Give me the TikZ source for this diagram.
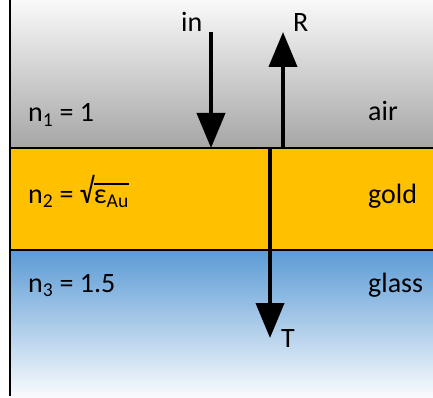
\documentclass[tikz,border=0pt]{standalone}
\usepackage{fontspec}
\setmainfont{Carlito}
\usetikzlibrary{arrows.meta}
\definecolor{airtop}{HTML}{F9F9F9}
\definecolor{airbot}{HTML}{A6A6A6}
\definecolor{gold}{HTML}{FFC000}
\definecolor{glasstop}{HTML}{5B9BD5}
\definecolor{glassbot}{HTML}{FAFBFD}
\newcommand\myovl[1]{\leavevmode\vbox{\hrule height 1.3pt\kern 0.3pt\hbox{\vphantom{T}#1}}}
\begin{document}
\begin{tikzpicture}[x=1pt,y=-1pt,
  lbl/.style={inner sep=0pt,anchor=base west,font=\fontsize{28}{32}\selectfont},
  ray/.style={line width=4pt,-{Triangle[width=28pt,length=35pt]}},
  edge/.style={line width=2pt}]
\useasboundingbox (0,0) rectangle (433,398);
% layers
\shade[top color=airtop,bottom color=airbot] (10,0) rectangle (433,148);
\fill[gold] (10,148) rectangle (433,250);
\shade[top color=glasstop,bottom color=glassbot] (10,250) rectangle (433,398);
\draw[edge] (10,148) -- (433,148);
\draw[edge] (10,250) -- (433,250);
\draw[edge] (10,0) -- (10,396);
% arrow end points
\coordinate (inS) at (211,32);
\coordinate (inE) at (211,148);
\coordinate (rS) at (283,148);
\coordinate (rE) at (283,32);
\coordinate (tS) at (270,147);
\coordinate (tE) at (270,338);
\draw[ray] (inS) -- (inE);
\draw[ray] (rS) -- (rE);
\draw[ray] (tS) -- (tE);
% labels
\node[lbl] (lin) at (181,32) {in};
\node[lbl] (lR) at (293,32) {R};
\node[lbl] (lT) at (281,347) {T};
\node[lbl] (n1) at (28,122) {n\textsubscript{1} = 1};
\node[lbl] (air) at (368,121) {air};
\node[lbl] (n2) at (28,203) {n\textsubscript{2} = \scalebox{1}[1.25]{√}\myovl{ε\textsubscript{Au}}};
\node[lbl] (gold) at (368,203) {gold};
\node[lbl] (n3) at (28,292) {n\textsubscript{3} = 1.5};
\node[lbl] (glass) at (368,292) {glass};
\end{tikzpicture}
\end{document}
